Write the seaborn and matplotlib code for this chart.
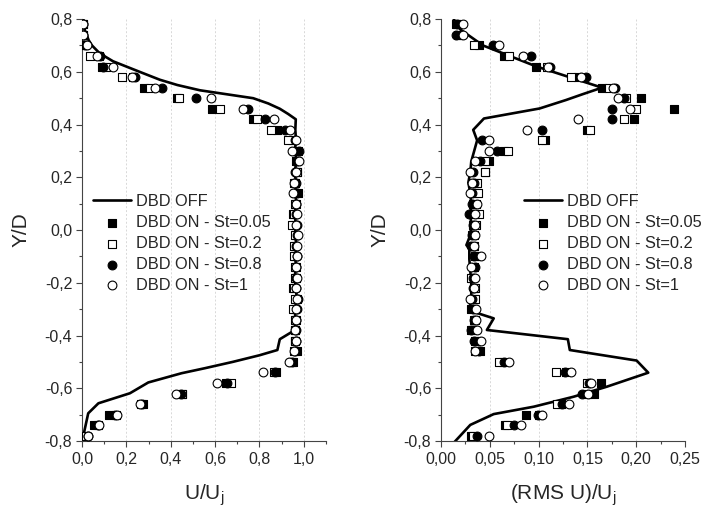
import matplotlib
matplotlib.use("Agg")
import matplotlib.pyplot as plt
from matplotlib.ticker import MultipleLocator, FuncFormatter
import seaborn as sns

# measurement stations (Y/D)
y_pts = [0.78, 0.74, 0.70, 0.66, 0.62, 0.58, 0.54, 0.50, 0.46, 0.42,
         0.38, 0.34, 0.30, 0.26, 0.22, 0.18, 0.14, 0.10, 0.06, 0.02,
         -0.02, -0.06, -0.10, -0.14, -0.18, -0.22, -0.26, -0.30, -0.34, -0.38,
         -0.42, -0.46, -0.50, -0.54, -0.58, -0.62, -0.66, -0.70, -0.74, -0.78]

# mean velocity U/Uj
u_st005 = [0.005, 0.005, 0.012, 0.075, 0.089, 0.232, 0.281, 0.430, 0.584, 0.769,
           0.880, 0.945, 0.975, 0.965, 0.968, 0.962, 0.975, 0.965, 0.952, 0.962,
           0.965, 0.960, 0.962, 0.963, 0.965, 0.952, 0.970, 0.962, 0.965, 0.962,
           0.962, 0.968, 0.952, 0.877, 0.649, 0.449, 0.273, 0.123, 0.054, 0.006]
u_st02 = [0.004, 0.004, 0.009, 0.036, 0.108, 0.179, 0.306, 0.437, 0.622, 0.787,
          0.854, 0.931, 0.955, 0.968, 0.970, 0.958, 0.960, 0.962, 0.958, 0.946,
          0.960, 0.958, 0.956, 0.960, 0.962, 0.958, 0.962, 0.952, 0.962, 0.960,
          0.960, 0.958, 0.945, 0.865, 0.670, 0.452, 0.268, 0.152, 0.070, 0.020]
u_st08 = [0.006, 0.006, 0.015, 0.081, 0.095, 0.239, 0.359, 0.512, 0.749, 0.827,
          0.914, 0.960, 0.979, 0.970, 0.962, 0.965, 0.970, 0.966, 0.965, 0.968,
          0.970, 0.966, 0.968, 0.965, 0.966, 0.965, 0.975, 0.968, 0.966, 0.965,
          0.965, 0.962, 0.948, 0.870, 0.655, 0.445, 0.270, 0.150, 0.072, 0.025]
u_st1 = [0.006, 0.005, 0.024, 0.069, 0.138, 0.224, 0.329, 0.580, 0.727, 0.865,
         0.937, 0.964, 0.949, 0.979, 0.965, 0.955, 0.952, 0.966, 0.971, 0.966,
         0.975, 0.970, 0.968, 0.965, 0.968, 0.965, 0.968, 0.966, 0.966, 0.962,
         0.966, 0.955, 0.935, 0.814, 0.607, 0.422, 0.261, 0.156, 0.078, 0.029]

off_u_y = [0.80, 0.76, 0.72, 0.70, 0.67, 0.64, 0.62, 0.60, 0.57, 0.55,
           0.53, 0.50, 0.48, 0.46, 0.44, 0.42, 0.38, 0.34, 0.30, 0.26,
           0.22, 0.18, 0.14, 0.10, 0.06, 0.02, -0.02, -0.06, -0.10, -0.14,
           -0.18, -0.22, -0.26, -0.30, -0.34, -0.38, -0.414, -0.455, -0.475, -0.50,
           -0.524, -0.543, -0.578, -0.619, -0.657, -0.695, -0.78, -0.80]
off_u = [0.005, 0.012, 0.030, 0.045, 0.080, 0.140, 0.200, 0.260, 0.351, 0.430,
         0.532, 0.772, 0.840, 0.892, 0.930, 0.964, 0.962, 0.965, 0.960, 0.968,
         0.958, 0.966, 0.960, 0.968, 0.958, 0.965, 0.960, 0.968, 0.960, 0.966,
         0.958, 0.965, 0.968, 0.960, 0.962, 0.959, 0.892, 0.881, 0.800, 0.680,
         0.554, 0.449, 0.299, 0.216, 0.074, 0.028, 0.006, 0.004]

# turbulence intensity (RMS U)/Uj
r_st005 = [0.015, 0.018, 0.039, 0.065, 0.097, 0.140, 0.165, 0.205, 0.239, 0.198,
           0.150, 0.107, 0.065, 0.049, 0.045, 0.036, 0.034, 0.033, 0.034, 0.033,
           0.034, 0.033, 0.035, 0.034, 0.032, 0.034, 0.034, 0.031, 0.034, 0.032,
           0.035, 0.040, 0.064, 0.128, 0.164, 0.157, 0.123, 0.087, 0.066, 0.031]
r_st02 = [0.016, 0.017, 0.034, 0.070, 0.109, 0.133, 0.172, 0.190, 0.200, 0.1875,
          0.153, 0.103, 0.069, 0.045, 0.045, 0.037, 0.038, 0.036, 0.039, 0.036,
          0.032, 0.034, 0.036, 0.033, 0.031, 0.035, 0.035, 0.034, 0.035, 0.031,
          0.037, 0.035, 0.059, 0.118, 0.150, 0.150, 0.119, 0.100, 0.068, 0.033]
r_st08 = [0.016, 0.015, 0.053, 0.092, 0.112, 0.149, 0.178, 0.188, 0.175, 0.175,
          0.103, 0.042, 0.057, 0.040, 0.033, 0.034, 0.032, 0.032, 0.029, 0.033,
          0.032, 0.031, 0.034, 0.035, 0.033, 0.033, 0.032, 0.033, 0.034, 0.031,
          0.034, 0.039, 0.065, 0.127, 0.152, 0.145, 0.124, 0.099, 0.075, 0.037]
r_st1 = [0.023, 0.023, 0.059, 0.084, 0.110, 0.143, 0.176, 0.181, 0.194, 0.140,
         0.088, 0.049, 0.049, 0.035, 0.030, 0.032, 0.030, 0.037, 0.035, 0.035,
         0.035, 0.034, 0.041, 0.031, 0.035, 0.034, 0.030, 0.036, 0.036, 0.037,
         0.041, 0.035, 0.070, 0.133, 0.154, 0.151, 0.131, 0.104, 0.082, 0.049]

off_r_y = [0.80, 0.76, 0.70, 0.62, 0.54, 0.515, 0.493, 0.461, 0.423, 0.38,
           0.34, 0.30, 0.26, 0.22, 0.18, 0.14, 0.10, 0.06, 0.02, -0.02,
           -0.057, -0.07, -0.11, -0.20, -0.255, -0.265, -0.31, -0.335, -0.379, -0.414,
           -0.455, -0.495, -0.541, -0.594, -0.632, -0.670, -0.698, -0.739, -0.803]
off_r = [0.013, 0.020, 0.043, 0.098, 0.165, 0.145, 0.128, 0.101, 0.044, 0.033,
         0.037, 0.034, 0.031, 0.030, 0.028, 0.030, 0.031, 0.030, 0.031, 0.030,
         0.026, 0.029, 0.029, 0.031, 0.031, 0.028, 0.033, 0.054, 0.047, 0.130,
         0.132, 0.2005, 0.2124, 0.170, 0.136, 0.095, 0.054, 0.030, 0.014]

labels = ["DBD OFF", "DBD ON - St=0.05", "DBD ON - St=0.2",
          "DBD ON - St=0.8", "DBD ON - St=1"]

sns.set_style("ticks")
plt.rcParams["font.family"] = ["Liberation Sans", "DejaVu Sans"]
plt.rcParams["mathtext.fontset"] = "custom"
plt.rcParams["mathtext.rm"] = "Liberation Sans"
plt.rcParams["mathtext.it"] = "Liberation Sans"


def comma(fmt):
    return FuncFormatter(lambda v, p: (fmt % v).replace(".", ","))


def draw(ax, off_x, off_y, series, xlim, xmajor, xfmt, xlabel, leg_x):
    sns.lineplot(x=off_x, y=off_y, sort=False, estimator=None, ax=ax,
                 color="black", linewidth=1.9, label=labels[0])
    styles = [("s", "black", 32), ("s", "white", 32),
              ("o", "black", 40), ("o", "white", 40)]
    for vals, (m, fc, s), lab in zip(series, styles, labels[1:]):
        sns.scatterplot(x=vals, y=y_pts, ax=ax, marker=m, s=s, facecolor=fc,
                        edgecolor="black", linewidth=0.8, label=lab, zorder=3)
    ax.set_xlim(*xlim)
    ax.set_ylim(-0.8, 0.8)
    ax.xaxis.set_major_locator(MultipleLocator(xmajor))
    ax.xaxis.set_minor_locator(MultipleLocator(xmajor / 2))
    ax.yaxis.set_major_locator(MultipleLocator(0.2))
    ax.yaxis.set_minor_locator(MultipleLocator(0.1))
    ax.xaxis.set_major_formatter(comma(xfmt))
    ax.yaxis.set_major_formatter(comma("%.1f"))
    ax.grid(axis="x", which="major", color="#d8d8d8", linestyle=(0, (2, 2)),
            linewidth=0.7)
    ax.tick_params(which="major", direction="out", length=4, width=0.8,
                   labelsize=11.5, pad=3, color="#444444")
    ax.tick_params(axis="x", which="major", pad=4)
    ax.tick_params(which="minor", direction="out", length=2.5, width=0.8,
                   color="#444444")
    for sp in ["left", "bottom"]:
        ax.spines[sp].set_color("#444444")
        ax.spines[sp].set_linewidth(0.8)
    sns.despine(ax=ax)
    ax.set_xlabel(xlabel, fontsize=15, labelpad=11)
    ax.set_ylabel("Y/D", fontsize=15, labelpad=10)
    ax.legend(loc="upper left", bbox_to_anchor=(leg_x, 0.585), frameon=False,
              fontsize=11.8, handlelength=2.3, handletextpad=0.3,
              labelspacing=0.36, borderaxespad=0, borderpad=0)


fig = plt.figure(figsize=(7.07, 5.12), dpi=100)
ax1 = fig.add_axes([0.116, 0.1387, 0.345, 0.824])
ax2 = fig.add_axes([0.6238, 0.1387, 0.345, 0.824])

draw(ax1, off_u, off_u_y, [u_st005, u_st02, u_st08, u_st1],
     (0, 1.1), 0.2, "%.1f", r"U/U$_\mathregular{j}$", 0.045)
draw(ax2, off_r, off_r_y, [r_st005, r_st02, r_st08, r_st1],
     (0, 0.25), 0.05, "%.2f", r"(RMS U)/U$_\mathregular{j}$", 0.34)

fig.savefig("out.png", dpi=100)
